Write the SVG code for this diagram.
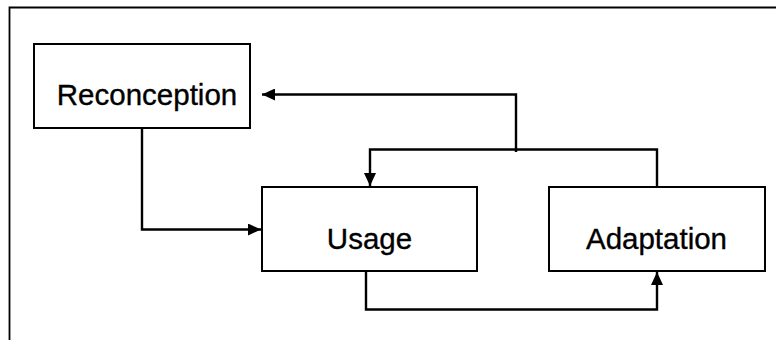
<svg xmlns="http://www.w3.org/2000/svg" width="776" height="340" viewBox="0 0 776 340">
<style>
.box{fill:#fff;stroke:#000;stroke-width:2}
.lbl{font-family:"Liberation Sans",Arial,sans-serif;font-size:29.5px;fill:#000;stroke:#000;stroke-width:0.35;text-anchor:middle}
.conn{fill:none;stroke:#000;stroke-width:2.4}
.frame{fill:none;stroke:#000;stroke-width:1.8}
</style>
<defs>
<marker id="ah" markerUnits="userSpaceOnUse" markerWidth="14" markerHeight="12" refX="13" refY="6" orient="auto">
<path d="M0,0 L13,6 L0,12 Z" fill="#000"/>
</marker>
</defs>
<rect width="776" height="340" fill="#fff"/>
<path class="frame" d="M9.5,340 V7.5 H776"/>
<g id="connectors">
<path class="conn" d="M142,128 V229.5 H261" marker-end="url(#ah)"/>
<path class="conn" d="M366,271 V309.5 H657 V272" marker-end="url(#ah)"/>
<path class="conn" d="M657,187 V149.5 H370 V186" marker-end="url(#ah)"/>
<path class="conn" d="M516,152 V94.5 H262" marker-end="url(#ah)"/>
</g>
<g id="reconception">
<rect class="box" x="34" y="44" width="216" height="84"/>
<text class="lbl" x="147" y="105">Reconception</text>
</g>
<g id="usage">
<rect class="box" x="262" y="187" width="215" height="84"/>
<text class="lbl" x="369.5" y="248.5">Usage</text>
</g>
<g id="adaptation">
<rect class="box" x="549" y="187" width="216" height="84"/>
<text class="lbl" x="656.5" y="248.5">Adaptation</text>
</g>
</svg>
